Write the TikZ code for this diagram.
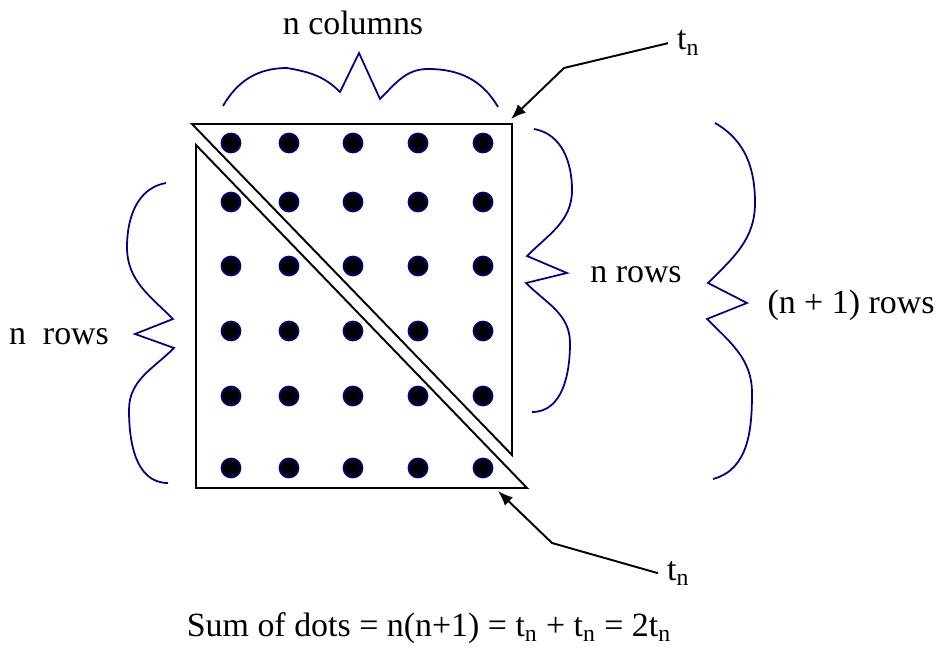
\documentclass[tikz,border=0pt]{standalone}
\usepackage{fontspec}
\setmainfont{Liberation Serif}
\usetikzlibrary{arrows.meta}
\definecolor{navy}{RGB}{0,0,128}

\begin{document}
\begin{tikzpicture}[x=0.02cm,y=0.02cm,>={Latex[length=3mm,width=2.3mm]},
  lbl/.style={anchor=base,inner sep=0pt,font=\fontsize{19.3}{23}\selectfont},
  tri/.style={draw,line width=1.1pt,line join=miter},
  brc/.style={draw=navy,line width=1pt},
  dot/.style={circle,fill=black,draw=navy,line width=1pt,minimum size=0.38cm,inner sep=0pt},
  ptr/.style={->,line width=1.1pt}]
\useasboundingbox (0,0) rectangle (939,649);
\draw[tri] (192,525) -- (512,525) -- (512,194) -- cycle;
\draw[tri] (196,504) -- (196,161) -- (527,161) -- cycle;
\foreach \y [count=\j] in {506,447,383,318,253,181}
  \foreach \x [count=\i] in {231,289,353,418,483}
    \node[dot] (d\j\i) at (\x,\y) {};
% braces
\draw[brc] (223,543) to[out=60,in=180] (287,581) to[out=-10,in=135] (340,557) -- (359,596) -- (380,550)
  to[out=45,in=180] (428,580) to[out=0,in=120] (498,542);
\draw[brc] (166,466) to[out=190,in=90] (127,402) to[out=-90,in=135] (173,330) -- (135,315) -- (174,301)
  to[out=225,in=90] (129,239) to[out=-90,in=180] (168,166);
\draw[brc] (534,520) to[out=-10,in=90] (572,459) to[out=-90,in=45] (527,393) -- (567,376) -- (526,366)
  to[out=-45,in=90] (570,306) to[out=-90,in=0] (532,237);
\draw[brc] (715,526) to[out=-30,in=90] (755,446) to[out=-90,in=45] (708,366) -- (747,346) -- (707,330)
  to[out=-45,in=90] (752,256) to[out=-90,in=15] (713,170);
\node[lbl] (cols) at (353,614) {n columns};
\node[lbl] (rowsl) at (59,304) {n~~rows};
\node[lbl] (rowsr) at (636,366) {n rows};
\node[lbl] (rowsn) at (851,335) {(n + 1) rows};
\node[lbl,anchor=base west,inner xsep=5pt] (tn1) at (668,599) {t\textsubscript{n}};
\node[lbl,anchor=base west,inner xsep=5pt] (tn2) at (658,69) {t\textsubscript{n}};
\node[lbl] (sum) at (429,13) {Sum of dots = n(n+1) = t\textsubscript{n} + t\textsubscript{n} = 2t\textsubscript{n}};
\coordinate (k1) at (564,581);
\coordinate (a1) at (511,530);
\coordinate (k2) at (552,106);
\coordinate (a2) at (498,158);
\draw[ptr] (tn1.west) -- (k1) -- (a1);
\draw[ptr] (tn2.west) -- (k2) -- (a2);
\end{tikzpicture}
\end{document}
